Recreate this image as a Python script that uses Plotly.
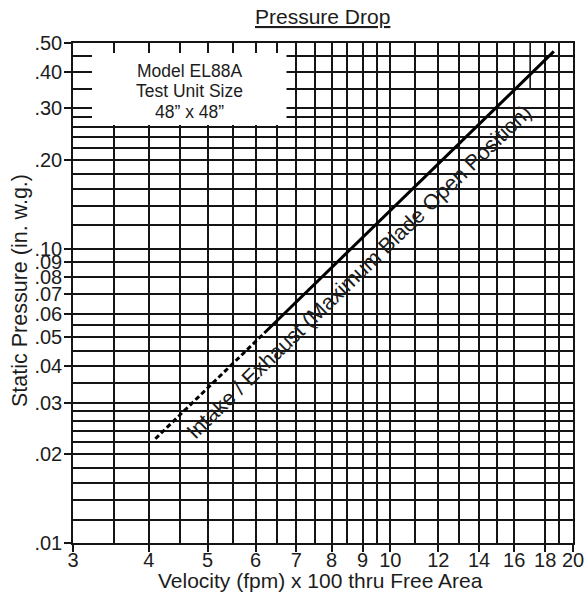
import plotly.graph_objects as go

# ---- data ----
velocity_dashed = [4.1, 6.2]
pressure_dashed = [0.0226, 0.0517]
velocity_solid = [6.2, 18.6]
pressure_solid = [0.0517, 0.468]

x_ticks = [3, 4, 5, 6, 7, 8, 9, 10, 12, 14, 16, 18, 20]
x_ticklabels = ["3", "4", "5", "6", "7", "8", "9", "10", "12", "14", "16", "18", "20"]
x_minor = [3.5, 4.5, 5.5, 6.5, 7.5, 8.5, 9.5, 11, 13, 15, 19]
x_partial = [17, 17]
y_partial = [0.50, 0.35]

y_ticks = [0.01, 0.02, 0.03, 0.04, 0.05, 0.06, 0.07, 0.08, 0.09, 0.10, 0.20, 0.30, 0.40, 0.50]
y_ticklabels = [".01", ".02", ".03", ".04", ".05", ".06", ".07", ".08", ".09", ".10",
                ".20", ".30", ".40", ".50"]
y_minor = [0.012, 0.014, 0.016, 0.018, 0.022, 0.024, 0.026, 0.028, 0.035, 0.045, 0.055,
           0.12, 0.14, 0.16, 0.18, 0.22, 0.24, 0.26, 0.28, 0.35, 0.45]

title_text = "Pressure Drop"
x_title = "Velocity (fpm) x 100 thru Free Area"
y_title = "Static Pressure (in. w.g.)"
box_lines = ["Model EL88A", "Test Unit Size", "48\u201d x 48\u201d"]
line_label = "Intake / Exhaust (Maximum Blade Open Position)"

FONT = "Liberation Sans, Arial, sans-serif"
INK = "#1c1c1c"
GRID = "#151515"
GW = 1.6

# plot-area geometry in pixels (for paper-coordinate conversion)
L, R, T, B = 73, 573, 43, 543
PW, PH = R - L, B - T


def px(x):
    return (x - L) / PW


def py(y):
    return (B - y) / PH


fig = go.Figure()
fig.add_trace(go.Scatter(x=x_partial, y=y_partial, mode="lines",
                         line=dict(color=GRID, width=GW), hoverinfo="skip"))
fig.add_trace(go.Scatter(x=velocity_dashed, y=pressure_dashed, mode="lines",
                         line=dict(color="black", width=3, dash="5px,3px")))
fig.add_trace(go.Scatter(x=velocity_solid, y=pressure_solid, mode="lines",
                         line=dict(color="black", width=3)))

fig.update_layout(
    width=585, height=594,
    margin=dict(l=L, r=585 - R, t=T, b=594 - B, autoexpand=False),
    paper_bgcolor="white", plot_bgcolor="white",
    showlegend=False,
    font=dict(family=FONT, color=INK),
)

fig.update_xaxes(
    type="log", range=[0.47712, 1.30103], automargin=False,
    tickmode="array", tickvals=x_ticks, ticktext=x_ticklabels,
    ticks="outside", ticklen=7, tickwidth=GW, tickcolor=GRID,
    ticklabelstandoff=-9,
    tickfont=dict(size=20, family=FONT, color=INK),
    showgrid=True, gridcolor=GRID, gridwidth=GW,
    minor=dict(tickmode="array", tickvals=x_minor, showgrid=True, gridcolor=GRID,
               gridwidth=GW, ticks=""),
    showline=True, linecolor=GRID, linewidth=GW, mirror=True,
    zeroline=False,
)
fig.update_yaxes(
    type="log", range=[-2, -0.30103], automargin=False,
    tickmode="array", tickvals=y_ticks, ticktext=y_ticklabels,
    ticks="outside", ticklen=7, tickwidth=GW, tickcolor=GRID,
    ticklabelstandoff=-2,
    tickfont=dict(size=20, family=FONT, color=INK),
    showgrid=True, gridcolor=GRID, gridwidth=GW,
    minor=dict(tickmode="array", tickvals=y_minor, showgrid=True, gridcolor=GRID,
               gridwidth=GW, ticks=""),
    showline=True, linecolor=GRID, linewidth=GW, mirror=True,
    zeroline=False,
)

# titles
fig.add_annotation(xref="paper", yref="paper", x=px(322), y=py(17),
                   text="<u>" + title_text + "</u>", showarrow=False,
                   xanchor="center", yanchor="middle",
                   font=dict(size=21, family=FONT, color=INK))
fig.add_annotation(xref="paper", yref="paper", x=px(320.5), y=py(580.5),
                   text=x_title, showarrow=False, xanchor="center", yanchor="middle",
                   font=dict(size=21, family=FONT, color=INK))
fig.add_annotation(xref="paper", yref="paper", x=px(20), y=py(291),
                   text=y_title, showarrow=False, textangle=-90,
                   xanchor="center", yanchor="middle",
                   font=dict(size=21.5, family=FONT, color=INK))

# white box hiding the grid behind the model text
fig.add_shape(type="rect", xref="paper", yref="paper",
              x0=px(92), x1=px(286.5), y0=py(125), y1=py(53),
              fillcolor="white", line=dict(width=0), layer="above")
for txt, ypix in zip(box_lines, [69.5, 90.3, 111]):
    fig.add_annotation(xref="paper", yref="paper", x=px(189.5), y=py(ypix + 1),
                       text=txt, showarrow=False, xanchor="center", yanchor="middle",
                       font=dict(size=17.5, family=FONT, color=INK))

fig.add_annotation(xref="paper", yref="paper", x=px(359), y=py(271.5),
                   text=line_label, showarrow=False, textangle=-44,
                   xanchor="center", yanchor="middle",
                   font=dict(size=21.5, family=FONT, color=INK))

fig.write_html("out.html", config={"displayModeBar": False},
               post_script="document.body.style.margin='0';document.body.style.padding='0';")
